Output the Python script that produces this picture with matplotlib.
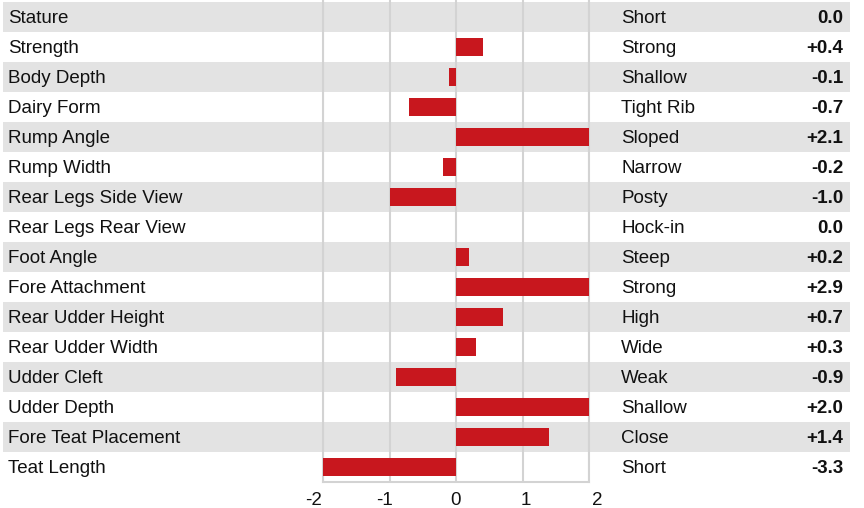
import numpy as np
import matplotlib.pyplot as plt

plt.rcParams['font.family'] = ['Liberation Sans', 'DejaVu Sans']

traits = ['Stature', 'Strength', 'Body Depth', 'Dairy Form', 'Rump Angle',
          'Rump Width', 'Rear Legs Side View', 'Rear Legs Rear View',
          'Foot Angle', 'Fore Attachment', 'Rear Udder Height',
          'Rear Udder Width', 'Udder Cleft', 'Udder Depth',
          'Fore Teat Placement', 'Teat Length']
descr = ['Short', 'Strong', 'Shallow', 'Tight Rib', 'Sloped', 'Narrow',
         'Posty', 'Hock-in', 'Steep', 'Strong', 'High', 'Wide', 'Weak',
         'Shallow', 'Close', 'Short']
values = [0.0, 0.4, -0.1, -0.7, 2.1, -0.2, -1.0, 0.0,
          0.2, 2.9, 0.7, 0.3, -0.9, 2.0, 1.4, -3.3]
xticks = [-2, -1, 0, 1, 2]

n = len(traits)
rows = np.arange(n)
W, H = 864, 508
fs = 13.5
fig = plt.figure(figsize=(W / 100, H / 100), dpi=100)

# background: striped rows + texts
bg = fig.add_axes([3 / W, 26 / H, 847 / W, 480 / H])
bg.set_xlim(0, 1)
bg.set_ylim(n - 0.5, -0.5)
bg.axis('off')
even = rows[::2]
bg.barh(even, np.ones(len(even)), height=1.0, left=0, color='#e3e3e3', linewidth=0)
for i in rows:
    bg.text(0.006, i + 0.05, traits[i], va='center', ha='left', fontsize=fs, color='#111111')
    bg.text(0.73, i + 0.05, descr[i], va='center', ha='left', fontsize=fs, color='#111111')
    v = values[i]
    s = '0.0' if v == 0 else '%+.1f' % v
    bg.text(0.992, i + 0.05, s, va='center', ha='right', fontsize=fs,
            fontweight='bold', color='#111111')

# bar chart
ax = fig.add_axes([323 / W, 26 / H, 266 / W, 482 / H], zorder=2)
ax.patch.set_alpha(0)
ax.barh(rows, values, height=0.6, color='#c8171e', zorder=3)
ax.set_xlim(-2, 2)
ax.set_ylim(n - 0.5, -0.5 - 2 / 30)
ax.set_xticks(xticks)
ax.set_xticklabels([])
ax.set_yticks([])
ax.tick_params(axis='x', length=0)
ax.grid(axis='x', color='#d3d3d3', linewidth=1.5, zorder=1)
ax.set_axisbelow(True)
for side in ['left', 'right', 'bottom']:
    ax.spines[side].set_color('#d3d3d3')
    ax.spines[side].set_linewidth(1.5)
ax.spines['top'].set_visible(False)

# tick labels sit a little wider apart than the grid lines
lab = fig.add_axes([314 / W, 26 / H, 283 / W, 0.001], zorder=1)
lab.patch.set_alpha(0)
lab.set_xlim(-2, 2)
lab.set_xticks(xticks)
lab.set_xticklabels([str(t) for t in xticks], fontsize=fs)
lab.set_yticks([])
lab.tick_params(axis='x', length=0, pad=7, colors='#111111')
for side in lab.spines:
    lab.spines[side].set_visible(False)

fig.savefig('out.png', dpi=100)
